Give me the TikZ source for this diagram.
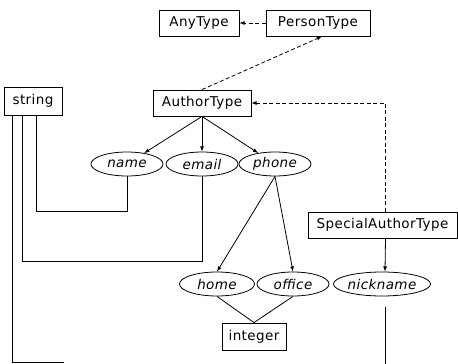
\documentclass[tikz,border=0pt]{standalone}
\usepackage{fontspec}
\setmainfont{DejaVu Sans}[LetterSpace=3]
\usetikzlibrary{shapes.geometric,arrows}

\begin{document}
\begin{tikzpicture}[x=1pt,y=1pt,
   tbox/.style={draw,rectangle,inner sep=0pt,minimum height=26pt,font=\fontsize{13.5}{15}\selectfont},
   attr/.style={draw,ellipse,inner sep=0pt,minimum height=24pt,minimum width=72pt,
                font=\fontsize{13.5}{15}\selectfont\itshape},
   dsh/.style={dash pattern=on 4pt off 2.5pt},
   every path/.style={line width=0.8pt},
   >=latex]
 \useasboundingbox (0,0) rectangle (458,-364);

 %types
 \node[tbox,minimum width=80pt]  (anyt)    at (199,-23)    {AnyType};
 \node[tbox,minimum width=104pt] (person)  at (318,-23)    {PersonType};
 \node[tbox,minimum width=58pt,minimum height=28pt] (str) at (33,-101) {string};
 \node[tbox,minimum width=98pt]  (author)  at (202,-103)   {AuthorType};
 \node[tbox,minimum width=149pt] (special) at (382.5,-225) {SpecialAuthorType};
 \node[tbox,minimum width=64pt,minimum height=27pt] (intg) at (254,-336.5) {integer};

 %elements
 \node[attr] (name)  at (127,-164) {name};
 \node[attr] (email) at (202,-164) {email};
 \node[attr] (phone) at (275,-164) {phone};
 \node[attr,minimum width=75pt] (home)   at (217,-284) {home};
 \node[attr] (office) at (293,-284) {office};
 \node[attr,minimum width=96pt] (nick) at (382,-284) {nickname};

 %derivation
 \draw[->,dsh] (person.west) -- (anyt.east);
 \draw[->,dsh] (author.north) -- ([xshift=4pt]person.south);
 \draw[->,dsh] ([xshift=3pt]special.north) |- (author.east);

 %content
 \draw[->] (author.south) -- (name);
 \draw[->] (author.south) -- (email);
 \draw[->] (author.south) -- (phone);
 \draw[->] (phone.south) -- (home.north);
 \draw[->] (phone.south) -- (office.north);
 \draw[->] ([xshift=3pt]special.south) -- ([xshift=3pt]nick.north);

 %types of elements
 \draw (name.south) -- ++(0,-35) -| ([xshift=33pt]str.south west);
 \draw (email.south) -- ++(0,-85) -| ([xshift=19pt]str.south west);
 \coordinate (strend) at (64,-362);
 \draw ([xshift=9pt]str.south west) |- (strend);
 \coordinate (nickend) at (385,-364);
 \draw ([xshift=3pt,yshift=-11pt]nick.south) -- (nickend);
 \draw (home.south) -- (intg.north);
 \draw (office.south) -- (intg.north);
\end{tikzpicture}
\end{document}
